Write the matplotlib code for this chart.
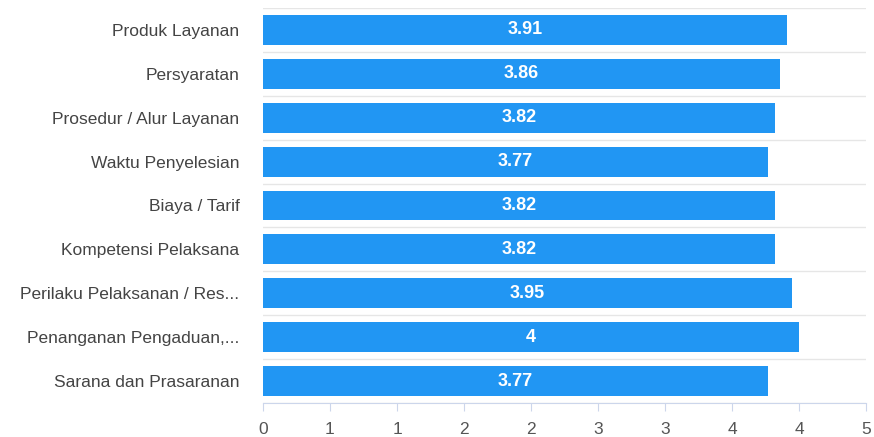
import numpy as np
import matplotlib
matplotlib.use("Agg")
import matplotlib.pyplot as plt

categories = [
    "Produk Layanan",
    "Persyaratan",
    "Prosedur / Alur Layanan",
    "Waktu Penyelesian",
    "Biaya / Tarif",
    "Kompetensi Pelaksana",
    "Perilaku Pelaksanan / Res...",
    "Penanganan Pengaduan,...",
    "Sarana dan Prasaranan",
]
values = [3.91, 3.86, 3.82, 3.77, 3.82, 3.82, 3.95, 4, 3.77]
x_ticks = [0, 0.5, 1, 1.5, 2, 2.5, 3, 3.5, 4, 4.5]

plt.rcParams['font.family'] = ['Liberation Sans', 'DejaVu Sans']

fig = plt.figure(figsize=(8.74, 4.37), dpi=100)
ax = fig.add_axes([263 / 874, 1 - 403 / 437, 603 / 874, 395 / 437])

y = np.arange(len(categories))
ax.barh(y, values, height=0.68, color="#2196f3", zorder=3)

for yi, v in zip(y, values):
    txt = ("%.2f" % v).rstrip("0").rstrip(".")
    ax.text(v / 2, yi, txt, color="white", fontweight="bold",
            fontsize=13, ha="center", va="center", zorder=4)

ax.set_xlim(0, 4.5)
ax.set_ylim(len(categories) - 0.5, -0.5)

# category boundary gridlines
for b in np.arange(-0.5, len(categories), 1.0):
    ax.axhline(b, color="#e6e6e6", lw=1, zorder=1)

ax.set_yticks(y)
ax.set_yticklabels(categories, fontsize=12.5, color="#444444")
ax.tick_params(axis="y", length=0, pad=17)

ax.set_xticks(x_ticks)
# integer format, rounding half up like the source
ax.set_xticklabels([str(int(np.floor(t + 0.5))) for t in x_ticks],
                   fontsize=12.5, color="#555555")
ax.tick_params(axis="x", length=6, color="#ccd6eb", pad=8)

for s in ["top", "right", "left"]:
    ax.spines[s].set_visible(False)
ax.spines["bottom"].set_color("#ccd6eb")

fig.savefig("out.png", dpi=100)
